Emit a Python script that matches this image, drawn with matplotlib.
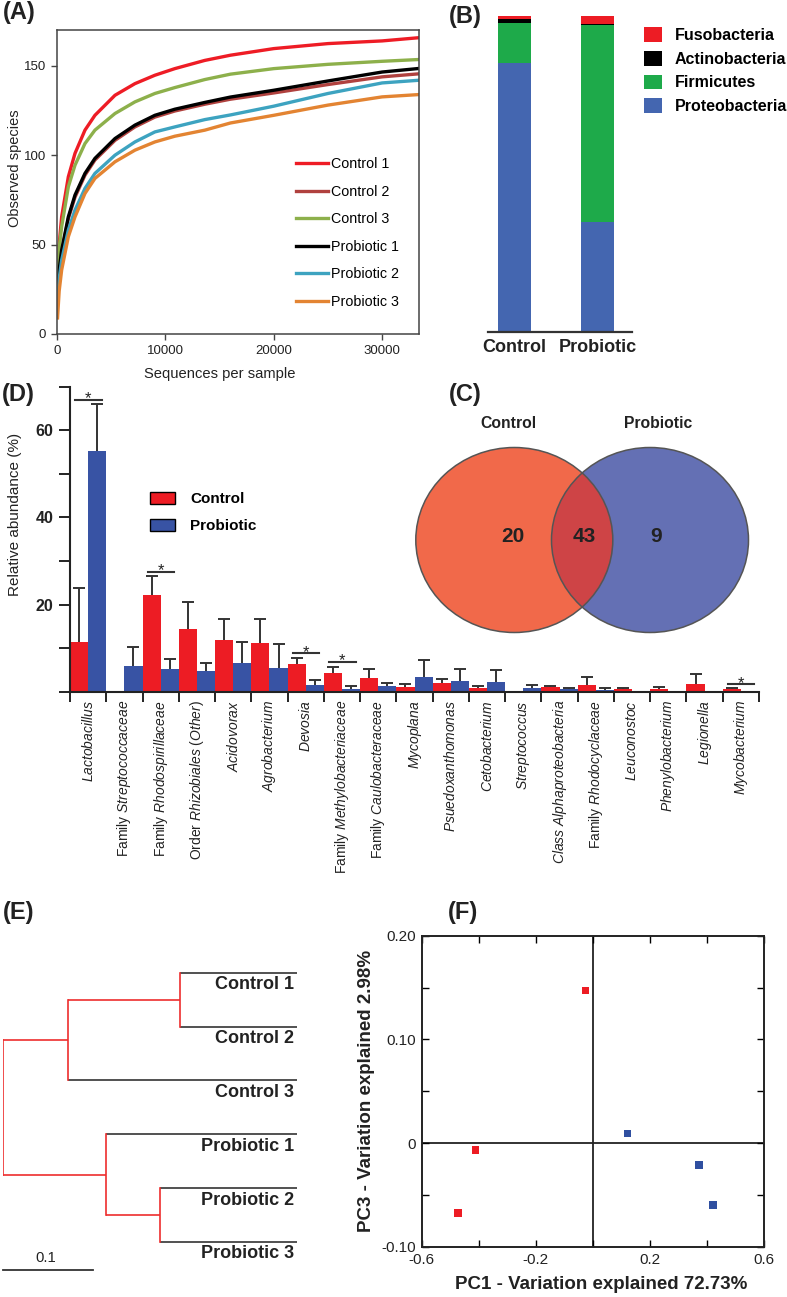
import matplotlib.pyplot as plt
import numpy as np
from matplotlib import font_manager
from matplotlib.patches import Ellipse, Patch

avail = {f.name for f in font_manager.fontManager.ttflist}
narrow = 'Liberation Sans Narrow' if 'Liberation Sans Narrow' in avail else 'Liberation Sans'
plt.rcParams['font.family'] = 'Liberation Sans'
plt.rcParams['mathtext.fontset'] = 'custom'
plt.rcParams['mathtext.rm'] = 'Liberation Sans'
plt.rcParams['mathtext.it'] = 'Liberation Sans:italic'
plt.rcParams['mathtext.bf'] = 'Liberation Sans:bold'

W, H = 787, 1297
RED = '#ED1C24'
BLUE = '#3853A4'
INK = '#222222'

# (A) rarefaction curves
seqs = [50, 200, 430, 1045, 1660, 2580, 3500, 5350, 7190, 9030, 10870, 13640, 16000, 20000, 25000, 30000, 33400]
control1 = [25, 50, 65.5, 87.9, 101, 114, 122.3, 133.5, 140, 144.7, 148.4, 153, 155.9, 159.6, 162.4, 163.9, 165.7]
control2 = [22, 35, 46, 64.5, 76.5, 88.8, 97.3, 108.3, 115.8, 121.3, 124.7, 128.5, 131.3, 134.8, 139.5, 143.8, 145.5]
control3 = [30, 48, 60, 82.3, 94.4, 106.5, 114, 123.3, 129.8, 134.5, 137.8, 142.3, 145.3, 148.4, 150.8, 152.5, 153.5]
probiotic1 = [22, 36, 46.9, 65.5, 77.7, 89.8, 98.2, 109.3, 116.8, 122.3, 125.7, 129.5, 132.5, 136.3, 141.5, 146.5, 148.5]
probiotic2 = [20, 31, 41.3, 58.1, 69.3, 81.4, 89.8, 100, 107.4, 113, 115.8, 119.9, 122.5, 127.4, 134.5, 140.4, 141.9]
probiotic3 = [9, 24, 35.8, 54.4, 65.5, 78.6, 87, 96.3, 102.8, 107.4, 110.6, 114, 118, 122.3, 128, 132.6, 133.9]
sample_names = ['Control 1', 'Control 2', 'Control 3', 'Probiotic 1', 'Probiotic 2', 'Probiotic 3']
curve_colors = ['#EE1C25', '#B0413E', '#8DB04B', '#000000', '#3DA3C0', '#E38432']

# (B) phylum composition (%)
phyla = ['Proteobacteria', 'Firmicutes', 'Actinobacteria', 'Fusobacteria']
phyla_colors = ['#4466B0', '#1EAA4A', '#000000', '#ED1C24']
groups = ['Control', 'Probiotic']
phyla_control = [85.0, 12.8, 1.2, 1.0]
phyla_probiotic = [34.8, 62.4, 0.3, 2.5]

# (C) shared OTUs
venn_counts = [20, 43, 9]

# (D) genus-level abundance
taxa = ['Lactobacillus', 'Streptococcaceae', 'Rhodospirillaceae', 'Rhizobiales (Other)', 'Acidovorax',
        'Agrobacterium', 'Devosia', 'Methylobacteriaceae', 'Caulobacteraceae', 'Mycoplana',
        'Psuedoxanthomonas', 'Cetobacterium', 'Streptococcus', 'Class Alphaproteobacteria',
        'Rhodocyclaceae', 'Leuconostoc', 'Phenylobacterium', 'Legionella', 'Mycobacterium']
prefix = ['', 'Family', 'Family', 'Order', '', '', '', 'Family', 'Family', '', '', '', '', '',
          'Family', '', '', '', '']
ctrl_mean = [11.5, 0.2, 22.2, 14.4, 11.8, 11.1, 6.4, 4.4, 3.2, 1.1, 2.1, 0.8, 0.0, 1.05, 1.6, 0.7, 0.7, 1.75, 0.7]
ctrl_err = [12.2, 0.0, 4.4, 6.2, 5.0, 5.5, 1.4, 1.3, 2.0, 0.7, 0.9, 0.6, 0.0, 0.2, 1.75, 0.2, 0.4, 2.25, 0.2]
prob_mean = [55.2, 6.0, 5.2, 4.7, 6.6, 5.4, 1.6, 0.7, 1.3, 3.3, 2.5, 2.3, 0.9, 0.6, 0.5, 0.1, 0.0, 0.0, 0.0]
prob_err = [10.9, 4.3, 2.3, 1.9, 4.9, 5.5, 1.15, 0.7, 0.8, 3.9, 2.6, 2.7, 0.6, 0.3, 0.3, 0.0, 0.0, 0.0, 0.0]
sig_idx = [0, 2, 6, 7, 18]
sig_y = [67.0, 27.5, 8.8, 6.8, 1.7]

# (E) clustering: (child a, child b, node depth from root); leaves 0-5, new nodes 6..
merges = [(0, 1, 0.195), (6, 2, 0.072), (4, 5, 0.173), (3, 8, 0.114), (7, 9, 0.0)]
leaf_depth = 0.324

# (F) PCoA
pc1_control = [-0.026, -0.412, -0.473]
pc3_control = [0.147, -0.0065, -0.0675]
pc1_probiotic = [0.1215, 0.371, 0.420]
pc3_probiotic = [0.0092, -0.0207, -0.0595]

fig = plt.figure(figsize=(W / 100, H / 100), dpi=100)


def box(x0, y0, x1, y1):
    return [x0 / W, 1 - y1 / H, (x1 - x0) / W, (y1 - y0) / H]


def panel(x, y, s):
    fig.text(x / W, 1 - y / H, s, fontsize=17, fontweight='bold', color=INK, ha='left', va='center')


# ---------- (A)
axA = fig.add_axes(box(57, 30, 419, 334))
for ys, name, c in zip([control1, control2, control3, probiotic1, probiotic2, probiotic3], sample_names, curve_colors):
    axA.plot(seqs, ys, color=c, lw=2.4, label=name)
axA.set_xlim(0, 33400)
axA.set_ylim(0, 170)
axA.set_xticks([0, 10000, 20000, 30000])
axA.set_yticks([0, 50, 100, 150])
axA.tick_params(direction='out', length=4, width=1, color='#444', labelcolor=INK, pad=4)
for t in axA.get_xticklabels() + axA.get_yticklabels():
    t.set_fontfamily(narrow)
    t.set_fontsize(11 if narrow != 'Liberation Sans' else 9.5)
for s in axA.spines.values():
    s.set_color('#444')
    s.set_linewidth(1.1)
axA.set_xlabel('Sequences per sample', fontsize=10.6, color=INK)
axA.xaxis.set_label_coords(0.449, -0.1326)
axA.xaxis.label.set_va('center')
axA.set_ylabel('Observed species', fontsize=10.5, color=INK)
axA.yaxis.set_label_coords(-0.116, 0.546)
axA.yaxis.label.set_va('center')
axA.legend(loc='upper left', bbox_to_anchor=(0.66, 0.582), frameon=False, fontsize=10.3,
           handlelength=2.25, handletextpad=0.2, labelspacing=0.95, borderpad=0, borderaxespad=0)
panel(3, 13, '(A)')

# ---------- (B)
axB = fig.add_axes(box(488, 16, 632, 331.7))
bottom_c, bottom_p = 0, 0
for name, col, vc, vp in zip(phyla, phyla_colors, phyla_control, phyla_probiotic):
    axB.bar([0, 1], [vc, vp], bottom=[bottom_c, bottom_p], width=0.394, color=col, label=name)
    bottom_c += vc
    bottom_p += vp
axB.set_xlim(-0.32, 1.41)
axB.set_ylim(0, 100)
axB.set_yticks([])
axB.set_xticks([0, 1], groups, fontsize=13, fontweight='bold', color=INK)
axB.tick_params(axis='x', length=0, pad=5)
for side in ['top', 'right', 'left']:
    axB.spines[side].set_visible(False)
axB.spines['bottom'].set_linewidth(1.6)
axB.spines['bottom'].set_color('#333')
hB = [Patch(facecolor=c, edgecolor='none') for c in phyla_colors][::-1]
axB.legend(handles=hB, labels=phyla[::-1], loc='upper left', bbox_to_anchor=(1.083, 0.966), frameon=False,
           prop={'weight': 'bold', 'size': 11.5}, handlelength=1.13, handleheight=1.06,
           handletextpad=0.8, labelspacing=0.5, borderpad=0, borderaxespad=0)
panel(449, 16, '(B)')

# ---------- (D)
axD = fig.add_axes(box(70, 386.7, 759, 691.7))
axD.patch.set_visible(False)
x = np.arange(len(taxa))
axD.bar(x + 0.25, ctrl_mean, width=0.5, color=RED, zorder=2, label='Control')
axD.bar(x + 0.75, prob_mean, width=0.5, color=BLUE, zorder=2, label='Probiotic')
ce = np.array(ctrl_err) > 0
pe = np.array(prob_err) > 0
axD.errorbar((x + 0.25)[ce], np.array(ctrl_mean)[ce], yerr=np.array(ctrl_err)[ce], fmt='none',
             ecolor='#333333', elinewidth=1.4, capsize=4.5, capthick=1.4, zorder=1)
axD.errorbar((x + 0.75)[pe], np.array(prob_mean)[pe], yerr=np.array(prob_err)[pe], fmt='none',
             ecolor='#333333', elinewidth=1.4, capsize=4.5, capthick=1.4, zorder=1)
for i, yv in zip(sig_idx, sig_y):
    axD.plot([i + 0.138, i + 0.874], [yv, yv], color='#333333', lw=1.5, zorder=3)
    axD.text(i + 0.5, yv - 0.8, '*', ha='center', va='baseline', fontsize=12, color='#222222', zorder=4)
axD.set_xlim(0, len(taxa))
axD.set_ylim(0, 70)
axD.set_xticks(np.arange(len(taxa) + 1))
axD.set_xticklabels([])
labels = []
for p, t in zip(prefix, taxa):
    it = r'$\mathit{' + t.replace(' ', r'\ ') + '}$'
    labels.append(p + ' ' + it if p else it)
axD.set_xticks(x + 0.5, minor=True)
axD.set_xticklabels(labels, minor=True, rotation=90, fontsize=10, color=INK)
axD.tick_params(axis='x', which='major', direction='out', length=7, width=1.4, color='#222')
axD.tick_params(axis='x', which='minor', length=0, pad=6)
axD.set_yticks(np.arange(0, 71, 10))
axD.set_yticklabels(['', '', '20', '', '40', '', '60', ''], fontsize=11.5, fontweight='bold', color=INK)
axD.tick_params(axis='y', direction='out', length=8, width=1.4, color='#222', pad=4)
for side in ['top', 'right']:
    axD.spines[side].set_visible(False)
for side in ['left', 'bottom']:
    axD.spines[side].set_linewidth(1.5)
    axD.spines[side].set_color('#222')
axD.set_ylabel('Relative abundance (%)', fontsize=11, color=INK)
axD.yaxis.set_label_coords(-0.08, 0.58)
axD.yaxis.label.set_va('center')
hD = [Patch(facecolor=RED, edgecolor='black', lw=1), Patch(facecolor=BLUE, edgecolor='black', lw=1)]
axD.legend(handles=hD, labels=['Control', 'Probiotic'], loc='upper left', bbox_to_anchor=(0.116, 0.656),
           frameon=False, prop={'weight': 'bold', 'size': 11}, handlelength=1.63, handleheight=0.83,
           handletextpad=1.0, labelspacing=0.83, borderpad=0, borderaxespad=0)
panel(2, 395, '(D)')

# ---------- (C) Venn (drawn above the bar axes)
axC = fig.add_axes(box(380, 380, 787, 680))
axC.set_xlim(380, 787)
axC.set_ylim(680, 380)
axC.axis('off')
left = Ellipse((514.3, 540), 197, 185, facecolor='#F1694A', edgecolor='none')
right = Ellipse((650, 540), 197, 185, facecolor='#6470B4', edgecolor='none')
axC.add_patch(left)
axC.add_patch(right)
inter = Ellipse((514.3, 540), 197, 185, facecolor='#CE4446', edgecolor='none')
axC.add_patch(inter)
inter.set_clip_path(right)
for cx in [514.3, 650]:
    axC.add_patch(Ellipse((cx, 540), 197, 185, facecolor='none', edgecolor='#555555', lw=1.1))
axC.text(508, 423, 'Control', fontsize=11.3, fontweight='bold', color=INK, ha='center', va='center')
axC.text(658, 423, 'Probiotic', fontsize=11.3, fontweight='bold', color=INK, ha='center', va='center')
for xv, n in zip([512.7, 584, 656], venn_counts):
    axC.text(xv, 537, str(n), fontsize=15, fontweight='bold', color=INK, ha='center', va='center')
panel(449, 395, '(C)')

# ---------- (E) dendrogram
axE = fig.add_axes(box(2.7, 945.8, 296.7, 1297))
axE.set_xlim(0, leaf_depth)
axE.set_ylim(6.02, -0.5)
axE.axis('off')
node_y = {i: float(i) for i in range(6)}
node_d = {i: leaf_depth for i in range(6)}
for k, (a, b, d) in enumerate(merges):
    nid = 6 + k
    for c in (a, b):
        col = '#333333' if c < 6 else '#EE2D2D'
        axE.plot([d, node_d[c]], [node_y[c], node_y[c]], color=col, lw=1.2, solid_capstyle='butt')
    axE.plot([d, d], [node_y[a], node_y[b]], color='#EE2D2D', lw=1.2)
    node_y[nid] = (node_y[a] + node_y[b]) / 2
    node_d[nid] = d
for i, name in enumerate(sample_names):
    axE.text(0.321, i + 0.22, name, ha='right', va='center', fontsize=13, fontweight='bold', color=INK)
axE.plot([0, 0.1], [5.52, 5.52], color='#333333', lw=1.3, clip_on=False)
axE.text(0.047, 5.29, '0.1', ha='center', va='center', fontsize=10.7, color=INK)
panel(3, 913, '(E)')

# ---------- (F) PCoA
axF = fig.add_axes(box(421.7, 935.7, 764.3, 1247))
axF.axhline(0, color='#222', lw=1.3, zorder=1)
axF.axvline(0, color='#222', lw=1.3, zorder=1)
axF.scatter(pc1_control, pc3_control, marker='s', s=30, color=RED, edgecolors='none', zorder=3)
axF.scatter(pc1_probiotic, pc3_probiotic, marker='s', s=30, color='#2F4FA0', edgecolors='none', zorder=3)
axF.set_xlim(-0.6, 0.6)
axF.set_ylim(-0.1, 0.2)
axF.set_xticks(np.linspace(-0.6, 0.6, 7), ['-0.6', '', '-0.2', '', '0.2', '', '0.6'])
axF.set_yticks(np.linspace(-0.1, 0.2, 7), ['-0.10', '', '0', '', '0.10', '', '0.20'])
axF.tick_params(direction='in', top=True, right=True, length=5, width=1, labelsize=11,
                labelcolor=INK, pad=4)
for s in axF.spines.values():
    s.set_linewidth(1.4)
    s.set_color('#222')
axF.set_xlabel('PC1 - Variation explained 72.73%', fontsize=13.5, fontweight='bold', color=INK)
axF.xaxis.set_label_coords(0.525, -0.122)
axF.xaxis.label.set_va('center')
axF.set_ylabel('PC3 - Variation explained 2.98%', fontsize=13.5, fontweight='bold', color=INK)
axF.yaxis.set_label_coords(-0.1605, 0.5)
axF.yaxis.label.set_va('center')
panel(448, 913, '(F)')

fig.savefig('out.png', dpi=100)
